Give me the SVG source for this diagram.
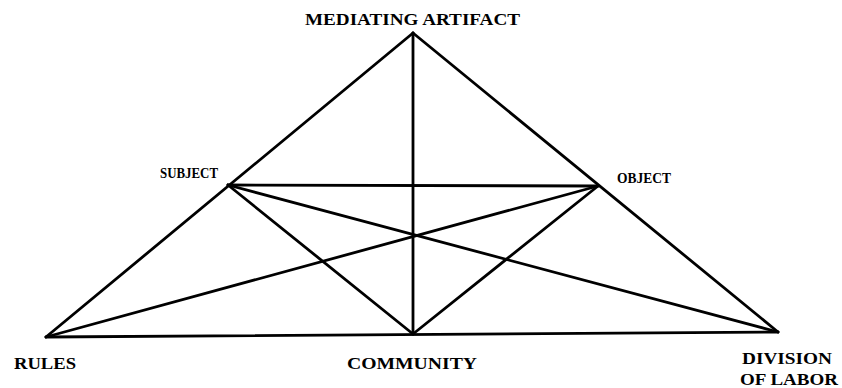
<svg xmlns="http://www.w3.org/2000/svg" width="842" height="388" viewBox="0 0 842 388">
<style>
.l{stroke:#000;stroke-width:2.8;stroke-linecap:round;fill:none}
.t{font-family:"Liberation Serif","Times New Roman",serif;font-weight:bold;font-size:16px;fill:#000}
.s{font-size:15px}
</style>
<rect width="842" height="388" fill="#fff"/>
<g id="connectors">
<line class="l" x1="413" y1="33" x2="46" y2="337"/>
<line class="l" x1="413" y1="33" x2="778" y2="332"/>
<line class="l" x1="46" y1="337" x2="778" y2="332"/>
<line class="l" x1="413" y1="33" x2="413" y2="334"/>
<line class="l" x1="228" y1="185" x2="598" y2="186"/>
<line class="l" x1="228" y1="185" x2="413" y2="334"/>
<line class="l" x1="598" y1="186" x2="413" y2="334"/>
<line class="l" x1="228" y1="185" x2="778" y2="332"/>
<line class="l" x1="46" y1="337" x2="598" y2="186"/>
</g>
<g id="mediating-artifact"><text class="t" x="305" y="25" textLength="215" lengthAdjust="spacingAndGlyphs">MEDIATING ARTIFACT</text></g>
<g id="subject"><text class="t s" x="160" y="178" textLength="58" lengthAdjust="spacingAndGlyphs">SUBJECT</text></g>
<g id="object"><text class="t s" x="617" y="183" textLength="54" lengthAdjust="spacingAndGlyphs">OBJECT</text></g>
<g id="rules"><text class="t" x="14" y="369" textLength="62" lengthAdjust="spacingAndGlyphs">RULES</text></g>
<g id="community"><text class="t" x="347" y="369" textLength="130" lengthAdjust="spacingAndGlyphs">COMMUNITY</text></g>
<g id="division-of-labor"><text class="t" x="742" y="364" textLength="90" lengthAdjust="spacingAndGlyphs">DIVISION</text><text class="t" x="740" y="385" textLength="98" lengthAdjust="spacingAndGlyphs">OF LABOR</text></g>
</svg>
